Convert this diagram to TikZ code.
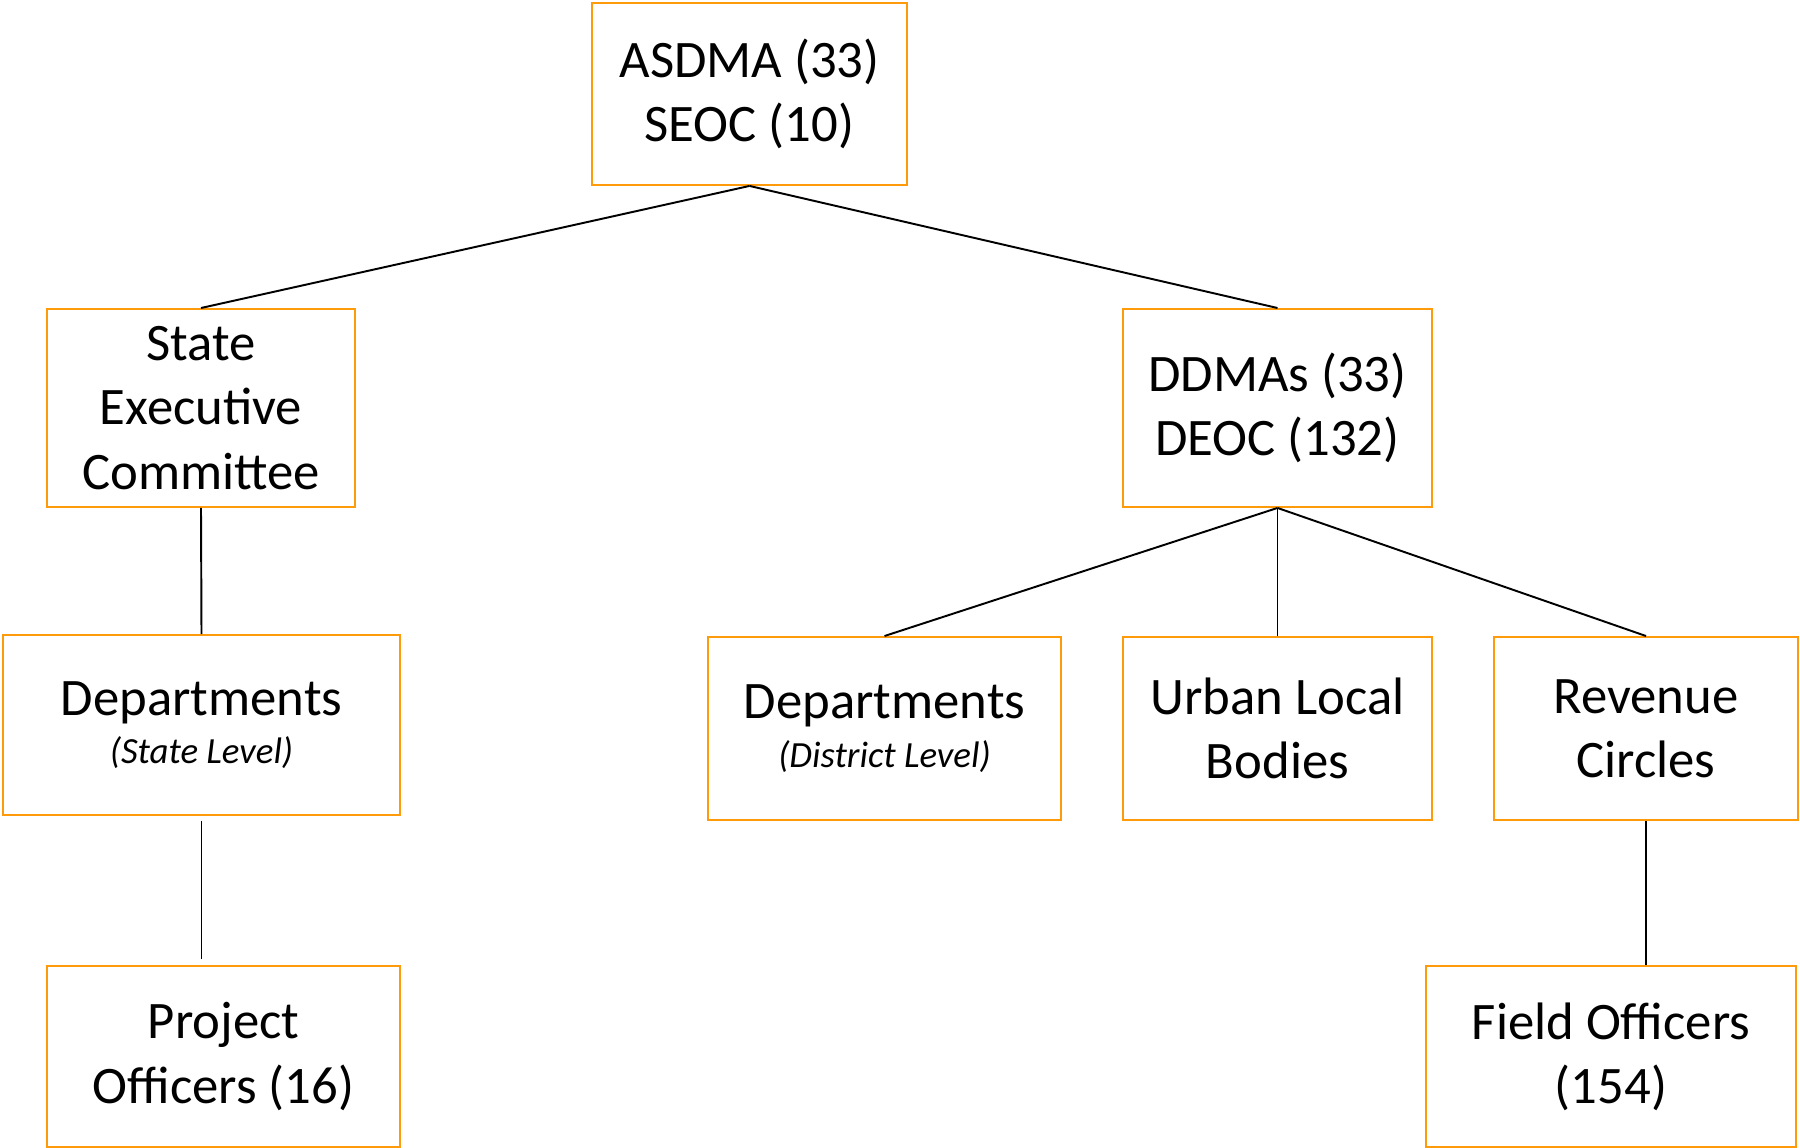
\documentclass[tikz,border=0pt]{standalone}
\usepackage{fontspec}
\setmainfont{Carlito}
\usepackage{tikz}

\definecolor{boxorange}{RGB}{255,155,10}
\newcommand{\lvl}[1]{{\fontsize{21}{24}\selectfont\itshape #1}}

\begin{document}
\begin{tikzpicture}[%
unit/.style = {draw=boxorange, line width=1.1pt, align=center, inner sep=0pt,
    font=\fontsize{30}{36.5}\selectfont},
link/.style = {draw=black, line width=1.1pt}]
\useasboundingbox (0,0) rectangle (36,22.96);
\node[unit, minimum width=6.30cm, minimum height=3.64cm] (asdma) at (14.99,21.08) {ASDMA (33)\\SEOC (10)};
\node[unit, minimum width=6.16cm, minimum height=3.96cm] (sec) at (4.02,14.80) {State\\Executive\\Committee};
\node[unit, minimum width=6.18cm, minimum height=3.96cm] (ddma) at (25.55,14.80) {DDMAs (33)\\DEOC (132)};
\node[unit, minimum width=7.94cm, minimum height=3.60cm] (depstate) at (4.03,8.46) {Departments\\[-9pt]\lvl{(State Level)}};
\node[unit, minimum width=7.06cm, minimum height=3.66cm] (depdist) at (17.69,8.39) {Departments\\[-9pt]\lvl{(District Level)}};
\node[unit, minimum width=6.18cm, minimum height=3.66cm] (ulb) at (25.55,8.39) {Urban Local\\Bodies};
\node[unit, minimum width=6.08cm, minimum height=3.66cm] (rev) at (32.92,8.39) {Revenue\\Circles};
\node[unit, minimum width=7.06cm, minimum height=3.62cm] (proj) at (4.47,1.83) {Project\\Officers (16)};
\node[unit, minimum width=7.40cm, minimum height=3.62cm] (field) at (32.22,1.83) {Field Officers\\(154)};

\draw[link] (asdma.south) -- (sec.north);
\draw[link] (asdma.south) -- (ddma.north);
\draw[link] (sec.south) -- (depstate.north);
\draw[link, shorten <=0.1cm, shorten >=0.12cm] (depstate.south) -- (depstate.south |- proj.north);
\draw[link] (ddma.south) -- (depdist.north);
\draw[link] (ddma.south) -- (ulb.north);
\draw[link] (ddma.south) -- (rev.north);
\draw[link] (rev.south) -- (rev.south |- field.north);
\end{tikzpicture}
\end{document}
